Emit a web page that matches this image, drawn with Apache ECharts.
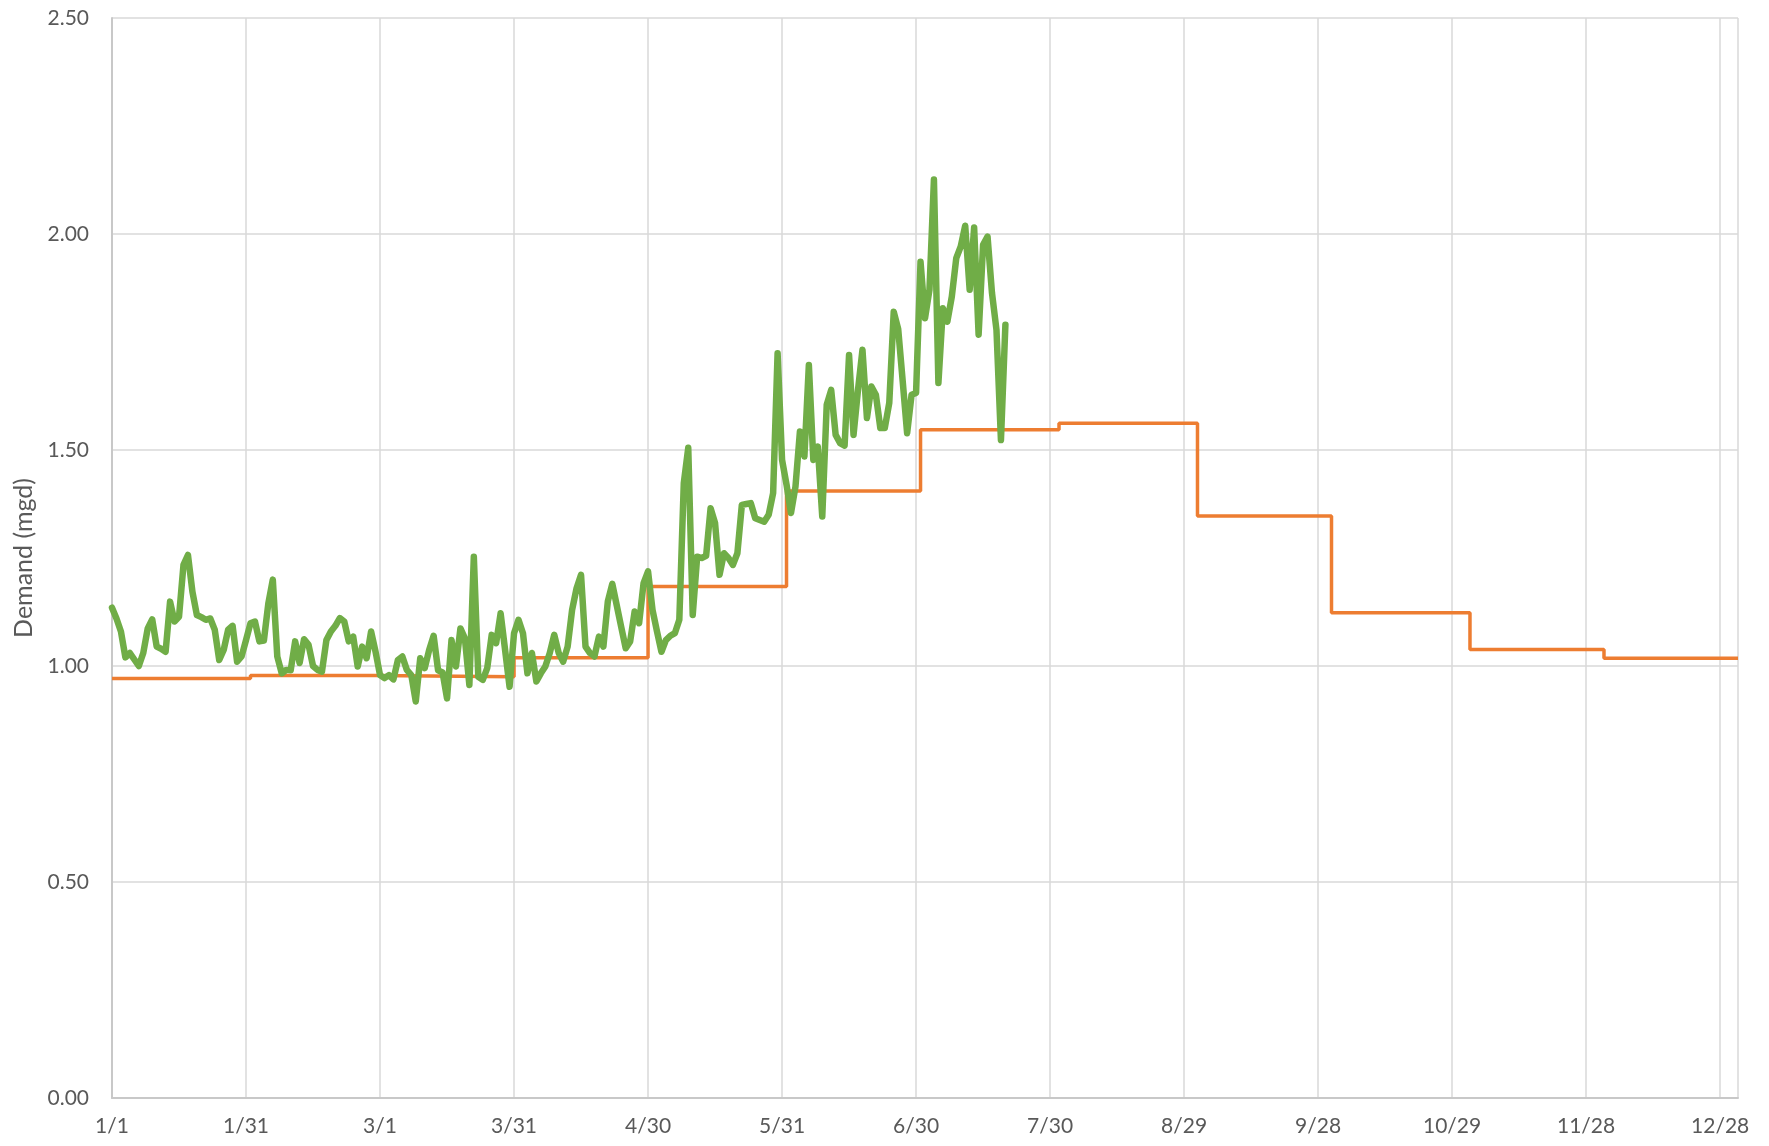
<!DOCTYPE html>
<html>
<head>
<meta charset="utf-8">
<script src="https://cdn.jsdelivr.net/npm/echarts@6/dist/echarts.min.js"></script>
<style>
  html, body { margin: 0; padding: 0; background: #fff; }
  #demandChart { width: 1769px; height: 1146px; }
</style>
</head>
<body>
<div id="demandChart"></div>
<script type="text/javascript">
// x tick labels, one every 30 days (day index 0 = 1/1)
var tickLabels = ['1/1', '1/31', '3/1', '3/31', '4/30', '5/31', '6/30', '7/30', '8/29', '9/28', '10/29', '11/28', '12/28'];

// projected demand, one value per month, and the day index where each month starts
var monthStartDay = [0, 31, 59, 90, 120, 151, 181, 212, 243, 273, 304, 334];
var projectedDemand = [0.971, 0.978, 0.975, 1.019, 1.184, 1.405, 1.547, 1.562, 1.347, 1.123, 1.038, 1.018];
var lastDay = 364;

// actual daily demand (mgd) from 1/1 onwards
var actualDemand = [
  1.135, 1.11, 1.08, 1.02, 1.03, 1.015, 1.0, 1.03, 1.087, 1.108,
  1.045, 1.04, 1.033, 1.149, 1.103, 1.114, 1.234, 1.257, 1.172, 1.118,
  1.113, 1.107, 1.11, 1.084, 1.014, 1.037, 1.084, 1.093, 1.01, 1.022,
  1.06, 1.099, 1.103, 1.057, 1.059, 1.145, 1.2, 1.022, 0.983, 0.991,
  0.99, 1.057, 1.007, 1.062, 1.049, 1.0, 0.991, 0.987, 1.06, 1.08,
  1.093, 1.111, 1.103, 1.057, 1.068, 0.999, 1.045, 1.018, 1.08, 1.033,
  0.979, 0.972, 0.979, 0.969, 1.014, 1.022, 0.991, 0.979, 0.918, 1.018,
  0.995, 1.037, 1.07, 0.99, 0.985, 0.925, 1.06, 0.999, 1.087, 1.064,
  0.956, 1.253, 0.975, 0.968, 0.995, 1.072, 1.053, 1.122, 1.037, 0.952,
  1.076, 1.107, 1.076, 0.983, 1.03, 0.964, 0.983, 0.999, 1.03, 1.072,
  1.03, 1.01, 1.045, 1.13, 1.18, 1.211, 1.045, 1.03, 1.022, 1.068,
  1.045, 1.15, 1.19, 1.14, 1.09, 1.041, 1.057, 1.126, 1.099, 1.192,
  1.219, 1.13, 1.08, 1.033, 1.06, 1.07, 1.076, 1.107, 1.423, 1.505,
  1.118, 1.253, 1.25, 1.255, 1.365, 1.331, 1.211, 1.261, 1.25, 1.234,
  1.261, 1.373, 1.375, 1.377, 1.342, 1.338, 1.334, 1.35, 1.40, 1.724,
  1.477, 1.42, 1.354, 1.415, 1.543, 1.485, 1.697, 1.477, 1.508, 1.346,
  1.605, 1.639, 1.535, 1.516, 1.51, 1.72, 1.535, 1.639, 1.732, 1.574,
  1.647, 1.628, 1.551, 1.551, 1.609, 1.82, 1.78, 1.66, 1.539, 1.628,
  1.632, 1.936, 1.805, 1.871, 2.126, 1.655, 1.828, 1.797, 1.855, 1.944,
  1.971, 2.019, 1.871, 2.015, 1.767, 1.975, 1.994, 1.863, 1.778, 1.523,
  1.79
];

var actualData = actualDemand.map(function (v, i) { return [i, v]; });
var projectedData = monthStartDay.map(function (d, i) { return [d, projectedDemand[i]]; });
projectedData.push([lastDay, projectedDemand[projectedDemand.length - 1]]);

var chart = echarts.init(document.getElementById('demandChart'));
var labelFont = 'Lato, "Open Sans", sans-serif';

chart.setOption({
  animation: false,
  backgroundColor: '#ffffff',
  grid: { left: 112, right: 31, top: 18, bottom: 48, containLabel: false },
  xAxis: {
    type: 'value',
    min: 0,
    max: lastDay,
    interval: 30,
    axisLine: { show: true, lineStyle: { color: '#c8c8c8', width: 2 } },
    axisTick: { show: false },
    axisLabel: {
      margin: 18,
      color: '#595959',
      fontFamily: labelFont,
      fontSize: 21,
      formatter: function (v) {
        if (v % 30 !== 0) return '';
        return tickLabels[v / 30] || '';
      }
    },
    splitLine: { show: true, lineStyle: { color: '#d9d9d9', width: 1.5 } }
  },
  yAxis: {
    type: 'value',
    min: 0,
    max: 2.5,
    interval: 0.5,
    name: 'Demand (mgd)',
    nameLocation: 'middle',
    nameRotate: 90,
    nameGap: 72,
    nameTextStyle: { color: '#595959', fontFamily: labelFont, fontSize: 25 },
    axisLine: { show: true, lineStyle: { color: '#c8c8c8', width: 2 } },
    axisTick: { show: false },
    axisLabel: {
      margin: 23,
      color: '#595959',
      fontFamily: labelFont,
      fontSize: 21,
      formatter: function (v) { return v.toFixed(2); }
    },
    splitLine: { show: true, lineStyle: { color: '#d9d9d9', width: 1.5 } }
  },
  series: [
    {
      name: 'Projected',
      type: 'line',
      step: 'end',
      data: projectedData,
      symbol: 'none',
      lineStyle: { color: '#ED7D31', width: 3.5 },
      z: 2
    },
    {
      name: 'Actual',
      type: 'line',
      data: actualData,
      symbol: 'none',
      lineStyle: { color: '#70AD47', width: 6.5, join: 'round', cap: 'round' },
      z: 3
    }
  ]
});
</script>
</body>
</html>
